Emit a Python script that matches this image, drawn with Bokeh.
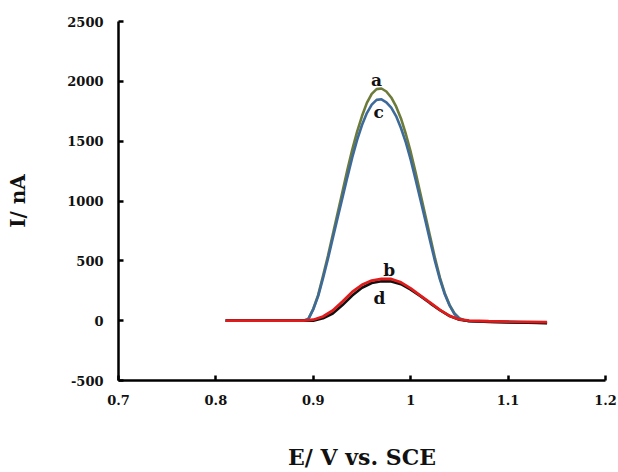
from bokeh.plotting import figure
from bokeh.models import FixedTicker, Range1d
from bokeh.embed import file_html
from bokeh.resources import INLINE
from bokeh.core.properties import value

# Potential (V vs. SCE)
xa = [0.81, 0.83, 0.85, 0.87, 0.89, 0.895, 0.90, 0.905, 0.91, 0.915, 0.92, 0.925, 0.93, 0.935,
      0.94, 0.945, 0.95, 0.955, 0.96, 0.965, 0.97, 0.975, 0.98, 0.985, 0.99, 0.995, 1.00,
      1.005, 1.01, 1.015, 1.02, 1.025, 1.03, 1.035, 1.04, 1.045, 1.05, 1.055, 1.06, 1.08,
      1.10, 1.12, 1.14]
curve_a = [0, 0, 0, 0, 0, 15, 100, 215, 375, 540, 720, 900, 1080, 1260,
           1430, 1580, 1710, 1820, 1895, 1935, 1940, 1915, 1865, 1790, 1690, 1560, 1410,
           1240, 1060, 880, 700, 520, 360, 230, 130, 60, 18, 3, -5, -8,
           -10, -15, -20]
curve_c = [0, 0, 0, 0, 0, 15, 95, 205, 355, 515, 690, 860, 1030, 1200,
           1365, 1510, 1635, 1735, 1805, 1845, 1850, 1825, 1780, 1710, 1610, 1490, 1345,
           1180, 1010, 840, 665, 495, 345, 220, 125, 55, 18, 3, -5, -8,
           -10, -14, -18]

xb = [0.81, 0.83, 0.85, 0.87, 0.89, 0.90, 0.91, 0.92, 0.93, 0.94, 0.95, 0.96, 0.97, 0.98,
      0.99, 1.00, 1.01, 1.02, 1.03, 1.04, 1.05, 1.06, 1.08, 1.10, 1.12, 1.14]
curve_b = [0, 0, 0, 0, 0, 8, 35, 85, 160, 240, 300, 335, 350, 348,
           320, 270, 210, 150, 90, 40, 10, 0, -5, -8, -10, -12]
curve_d = [0, 0, 0, 0, 0, 0, 20, 60, 130, 210, 275, 315, 330, 328,
           305, 260, 205, 145, 88, 38, 8, -3, -10, -14, -18, -22]

labels = ["a", "c", "b", "d"]
label_x = [0.965, 0.967, 0.978, 0.968]
label_y = [2010, 1740, 425, 190]

x_ticks = [0.7, 0.8, 0.9, 1.0, 1.1, 1.2]
x_tick_labels = ["0.7", "0.8", "0.9", "1", "1.1", "1.2"]
y_ticks = [-500, 0, 500, 1000, 1500, 2000, 2500]
y_tick_labels = ["-500", "0", "500", "1000", "1500", "2000", "2500"]

FONT = "DejaVu Serif"

p = figure(width=618, height=472, output_backend="svg", toolbar_location=None,
           x_range=Range1d(0.7, 1.2), y_range=Range1d(-500, 2500),
           min_border_left=118, min_border_right=13, min_border_top=21, min_border_bottom=91)
p.outline_line_color = None
p.xgrid.visible = False
p.ygrid.visible = False
p.background_fill_color = "white"
p.border_fill_color = "white"

p.line(xa, curve_a, line_color="#6c7b3a", line_width=2.6)
p.line(xa, curve_c, line_color="#3d6a99", line_width=2.6)
p.line(xb, curve_d, line_color="#111111", line_width=2.6)
p.line(xb, curve_b, line_color="#e01b1b", line_width=2.8)

p.text(x=label_x, y=label_y, text=labels, text_font=value(FONT), text_font_style="bold",
       text_font_size="17px", text_align="center", text_baseline="middle", text_color="#111111")

for ax in (p.xaxis[0], p.yaxis[0]):
    ax.axis_line_color = "black"
    ax.axis_line_width = 2.5
    ax.major_tick_line_color = "black"
    ax.major_tick_line_width = 2.5
    ax.major_tick_in = 5
    ax.major_tick_out = 0
    ax.minor_tick_line_color = None
    ax.major_label_text_font = FONT
    ax.major_label_text_font_style = "bold"
    ax.major_label_text_font_size = "13px"
    ax.major_label_text_color = "#111111"
    ax.axis_label_text_font = FONT
    ax.axis_label_text_font_style = "bold"
    ax.axis_label_text_color = "#111111"

p.xaxis.ticker = FixedTicker(ticks=x_ticks)
p.xaxis.major_label_overrides = {t: l for t, l in zip(x_ticks, x_tick_labels)}
p.xaxis.major_label_standoff = 14
p.xaxis.axis_label = "E/ V vs. SCE"
p.xaxis.axis_label_text_font_size = "22px"
p.xaxis.axis_label_standoff = 36

p.yaxis.ticker = FixedTicker(ticks=y_ticks)
p.yaxis.major_label_overrides = {t: l for t, l in zip(y_ticks, y_tick_labels)}
p.yaxis.major_label_standoff = 15
p.yaxis.axis_label = "I/ nA"
p.yaxis.axis_label_text_font_size = "20px"
p.yaxis.axis_label_standoff = 34

open("out.html", "w").write(file_html(p, INLINE))
